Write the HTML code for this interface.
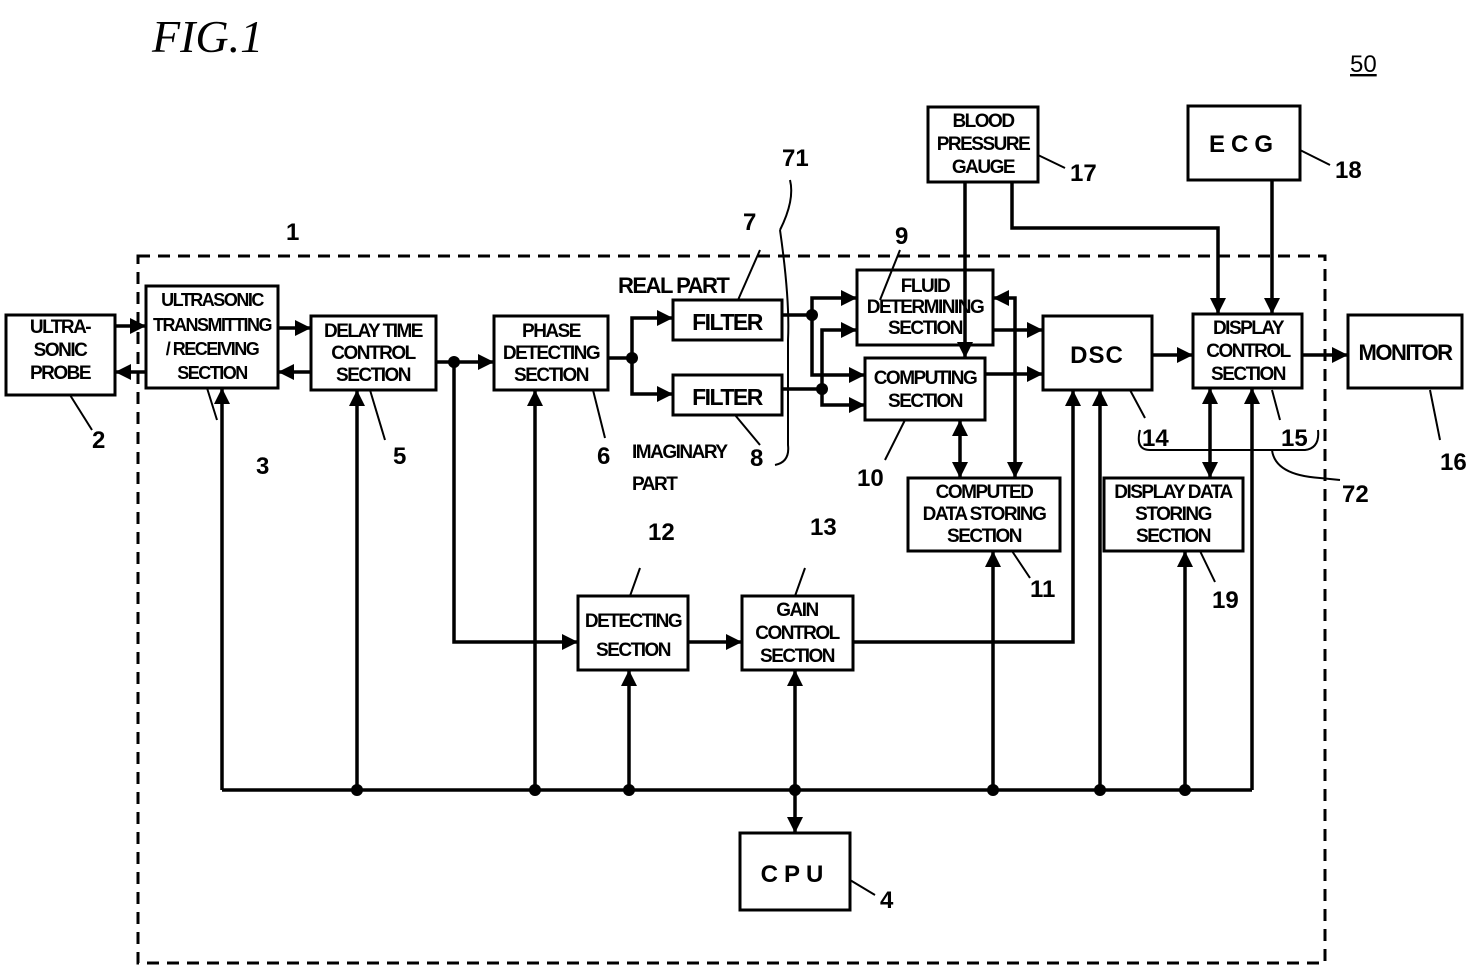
<!DOCTYPE html>
<html><head><meta charset="utf-8"><style>
html,body{margin:0;padding:0;background:#fff;}
svg{display:block;}
text{font-family:"Liberation Sans",sans-serif;font-weight:bold;fill:#000;}
.b{font-size:19px;letter-spacing:-1.5px;}
.n{font-size:24px;}
</style></head><body>
<svg width="1472" height="970" viewBox="0 0 1472 970" xmlns="http://www.w3.org/2000/svg">
<defs>
<marker id="h" viewBox="0 0 10 10" refX="10" refY="5" markerWidth="18" markerHeight="16" orient="auto-start-reverse" markerUnits="userSpaceOnUse"><path d="M0,0 L10,5 L0,10 z" fill="#000"/></marker>
</defs>
<text x="152" y="52" style="font-family:'Liberation Serif',serif;font-style:italic;font-weight:normal;font-size:46px">FIG.1</text>
<text x="1350" y="72" class="n" style="font-weight:normal;text-decoration:underline">50</text>
<rect x="138" y="256" width="1187" height="707" fill="none" stroke="#000" stroke-width="3" stroke-dasharray="12,8"/>
<g fill="none" stroke="#000" stroke-width="3">
<rect x="6" y="315" width="109" height="80"/>
<rect x="146" y="286" width="132" height="102"/>
<rect x="311" y="316" width="125" height="74"/>
<rect x="494" y="316" width="114" height="74"/>
<rect x="673" y="300" width="109" height="40"/>
<rect x="673" y="375" width="109" height="40"/>
<rect x="857" y="270" width="136" height="75"/>
<rect x="865" y="358" width="120" height="62"/>
<rect x="1043" y="316" width="109" height="74"/>
<rect x="1193" y="314" width="109" height="74"/>
<rect x="1348" y="315" width="114" height="73"/>
<rect x="928" y="107" width="110" height="75"/>
<rect x="1188" y="106" width="112" height="74"/>
<rect x="908" y="478" width="152" height="73"/>
<rect x="1104" y="478" width="139" height="73"/>
<rect x="578" y="596" width="110" height="74"/>
<rect x="742" y="596" width="111" height="74"/>
<rect x="740" y="833" width="110" height="77"/>
</g>
<g fill="none" stroke="#000" stroke-width="3.5">
<line x1="115" y1="326" x2="146" y2="326" marker-end="url(#h)"/>
<line x1="146" y1="372" x2="115" y2="372" marker-end="url(#h)"/>
<line x1="278" y1="328" x2="311" y2="328" marker-end="url(#h)"/>
<line x1="311" y1="372" x2="278" y2="372" marker-end="url(#h)"/>
<line x1="436" y1="362" x2="494" y2="362" marker-end="url(#h)"/>
<polyline points="608,358 632,358 632,318 673,318" marker-end="url(#h)"/>
<polyline points="632,358 632,394 673,394" marker-end="url(#h)"/>
<polyline points="782,315 812,315 812,298 857,298" marker-end="url(#h)"/>
<polyline points="812,315 812,375 865,375" marker-end="url(#h)"/>
<polyline points="782,389 822,389 822,330 857,330" marker-end="url(#h)"/>
<polyline points="822,389 822,405 865,405" marker-end="url(#h)"/>
<line x1="993" y1="330" x2="1043" y2="330" marker-end="url(#h)"/>
<line x1="985" y1="374" x2="1043" y2="374" marker-end="url(#h)"/>
<line x1="1152" y1="355" x2="1193" y2="355" marker-end="url(#h)"/>
<line x1="1302" y1="355" x2="1348" y2="355" marker-end="url(#h)"/>
<polyline points="1015,478 1015,298 993,298" marker-end="url(#h)" marker-start="url(#h)"/>
<line x1="960" y1="420" x2="960" y2="478" marker-end="url(#h)" marker-start="url(#h)"/>
<line x1="965" y1="182" x2="965" y2="358" marker-end="url(#h)"/>
<polyline points="1012,182 1012,228 1218,228 1218,314" marker-end="url(#h)"/>
<line x1="1272" y1="180" x2="1272" y2="314" marker-end="url(#h)"/>
<line x1="1210" y1="388" x2="1210" y2="478" marker-end="url(#h)" marker-start="url(#h)"/>
<polyline points="454,362 454,642 578,642" marker-end="url(#h)"/>
<line x1="688" y1="642" x2="742" y2="642" marker-end="url(#h)"/>
<polyline points="853,642 1073,642 1073,390" marker-end="url(#h)"/>
<line x1="222" y1="790" x2="1252" y2="790"/>
<line x1="222" y1="790" x2="222" y2="388" marker-end="url(#h)"/>
<line x1="357" y1="790" x2="357" y2="390" marker-end="url(#h)"/>
<line x1="535" y1="790" x2="535" y2="390" marker-end="url(#h)"/>
<line x1="629" y1="790" x2="629" y2="670" marker-end="url(#h)"/>
<line x1="795" y1="790" x2="795" y2="670" marker-end="url(#h)"/>
<line x1="795" y1="790" x2="795" y2="833" marker-end="url(#h)"/>
<line x1="993" y1="790" x2="993" y2="551" marker-end="url(#h)"/>
<line x1="1100" y1="790" x2="1100" y2="390" marker-end="url(#h)"/>
<line x1="1185" y1="790" x2="1185" y2="551" marker-end="url(#h)"/>
<line x1="1252" y1="790" x2="1252" y2="388" marker-end="url(#h)"/>
</g>
<g fill="#000">
<circle cx="454" cy="362" r="6"/><circle cx="632" cy="358" r="6"/>
<circle cx="812" cy="315" r="6"/><circle cx="822" cy="389" r="6"/>
<circle cx="357" cy="790" r="6"/><circle cx="535" cy="790" r="6"/><circle cx="629" cy="790" r="6"/>
<circle cx="795" cy="790" r="6"/><circle cx="993" cy="790" r="6"/><circle cx="1100" cy="790" r="6"/><circle cx="1185" cy="790" r="6"/>
</g>
<g fill="none" stroke="#000" stroke-width="2">
<path d="M70,395 L92,430"/><path d="M207,388 L217,420"/><path d="M370,390 L385,440"/>
<path d="M593,390 L605,438"/><path d="M738,300 L760,250"/><path d="M735,415 L760,445"/>
<path d="M780,230 Q795,200 790,180"/><path d="M780,230 Q790,300 788,340 L788,445 Q790,462 775,465"/>
<path d="M880,300 L900,250"/><path d="M905,420 L885,460"/>
<path d="M1038,155 L1065,168"/><path d="M1300,150 L1330,165"/>
<path d="M1130,390 L1145,418"/><path d="M1272,390 L1280,420"/>
<path d="M1140,430 Q1135,450 1150,450 L1305,450 Q1320,448 1318,430"/>
<path d="M1272,450 Q1275,475 1320,478 L1340,480"/>
<path d="M1430,390 L1440,440"/><path d="M1012,551 L1030,578"/><path d="M1200,551 L1215,582"/>
<path d="M640,568 L630,596"/><path d="M805,568 L795,596"/><path d="M850,880 L875,895"/>
</g>
<g class="b" text-anchor="middle">
<text x="60" y="333">ULTRA-</text><text x="60" y="356">SONIC</text><text x="60" y="379">PROBE</text>
<text x="212" y="306" style="font-size:18px">ULTRASONIC</text><text x="212" y="331" style="font-size:18px">TRANSMITTING</text><text x="212" y="355" style="font-size:18px">/ RECEIVING</text><text x="212" y="379" style="font-size:18px">SECTION</text>
<text x="373" y="337">DELAY TIME</text><text x="373" y="359">CONTROL</text><text x="373" y="381">SECTION</text>
<text x="551" y="337">PHASE</text><text x="551" y="359">DETECTING</text><text x="551" y="381">SECTION</text>
<text x="727" y="330" style="font-size:23px">FILTER</text><text x="727" y="405" style="font-size:23px">FILTER</text>
<text x="925" y="292">FLUID</text><text x="925" y="313">DETERMINING</text><text x="925" y="334">SECTION</text>
<text x="925" y="384">COMPUTING</text><text x="925" y="407">SECTION</text>
<text x="1097" y="363" style="font-size:24px;letter-spacing:1px">DSC</text>
<text x="1248" y="334">DISPLAY</text><text x="1248" y="357">CONTROL</text><text x="1248" y="380">SECTION</text>
<text x="1405" y="360" style="font-size:22px">MONITOR</text>
<text x="983" y="127">BLOOD</text><text x="983" y="150">PRESSURE</text><text x="983" y="173">GAUGE</text>
<text x="1244" y="152" style="font-size:24px;letter-spacing:6px">ECG</text>
<text x="984" y="498">COMPUTED</text><text x="984" y="520">DATA STORING</text><text x="984" y="542">SECTION</text>
<text x="1173" y="498">DISPLAY DATA</text><text x="1173" y="520">STORING</text><text x="1173" y="542">SECTION</text>
<text x="633" y="627">DETECTING</text><text x="633" y="656">SECTION</text>
<text x="797" y="616">GAIN</text><text x="797" y="639">CONTROL</text><text x="797" y="662">SECTION</text>
<text x="795" y="882" style="font-size:24px;letter-spacing:6px">CPU</text>
</g>
<g class="b">
<text x="618" y="293" style="font-size:22px">REAL PART</text>
<text x="632" y="458">IMAGINARY</text><text x="632" y="490">PART</text>
</g>
<g class="n">
<text x="92" y="448">2</text><text x="256" y="474">3</text><text x="393" y="464">5</text><text x="597" y="464">6</text>
<text x="743" y="230">7</text><text x="750" y="466">8</text><text x="782" y="166">71</text><text x="286" y="240">1</text>
<text x="895" y="244">9</text><text x="857" y="486">10</text><text x="1030" y="597">11</text>
<text x="648" y="540">12</text><text x="810" y="535">13</text><text x="1142" y="446">14</text><text x="1281" y="446">15</text>
<text x="1440" y="470">16</text><text x="1070" y="181">17</text><text x="1335" y="178">18</text><text x="1212" y="608">19</text>
<text x="1342" y="502">72</text><text x="880" y="908">4</text>
</g>
</svg>
</body></html>
